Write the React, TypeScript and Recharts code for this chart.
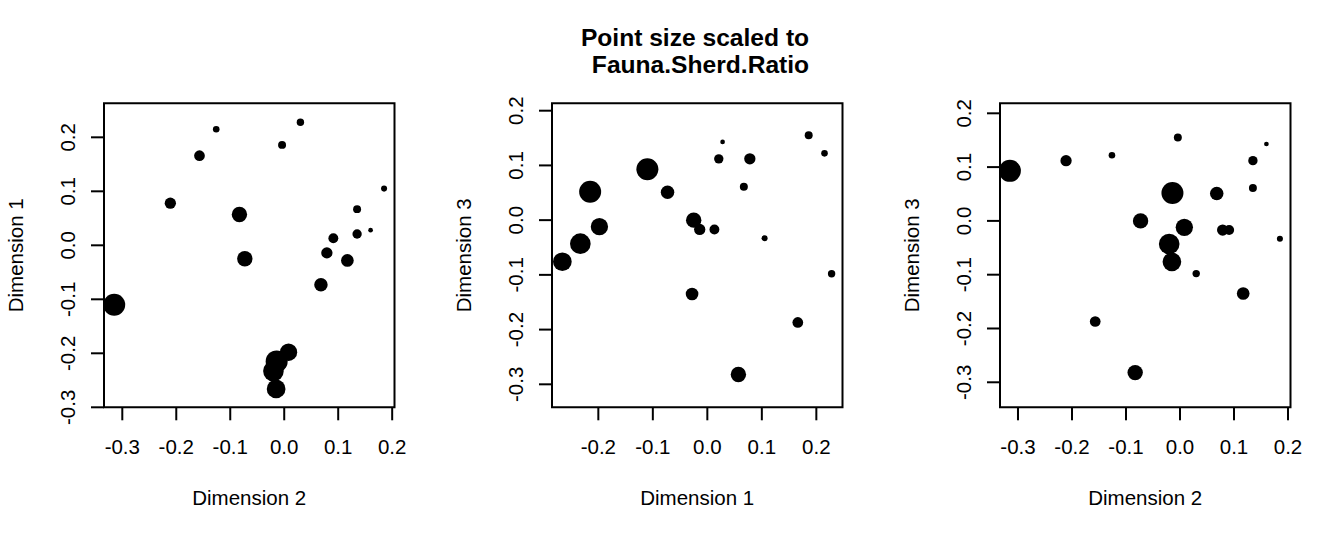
import React from "react";
import { ScatterChart, Scatter, XAxis, YAxis, ZAxis, ReferenceArea, Label } from "recharts";

// MDS coordinates of the 20 sites
const SITE_DIM1 = [-0.110, 0.078, 0.215, 0.186, 0.028, 0.021, 0.067, -0.215, -0.073, -0.025, -0.198, -0.014, 0.013, 0.105, -0.233, -0.266, 0.228, -0.028, 0.166, 0.057];
const SITE_DIM2 = [-0.315, -0.211, -0.126, -0.004, 0.160, 0.135, 0.135, -0.014, 0.068, -0.073, 0.008, 0.079, 0.091, 0.185, -0.020, -0.015, 0.030, 0.117, -0.157, -0.083];
const SITE_DIM3 = [0.093, 0.112, 0.122, 0.155, 0.143, 0.112, 0.061, 0.052, 0.051, 0.000, -0.012, -0.017, -0.017, -0.033, -0.043, -0.076, -0.098, -0.135, -0.187, -0.282];
const FAUNA_SHERD_RATIO = [4.0, 2.05, 1.2, 1.45, 0.85, 1.7, 1.45, 4.0, 2.45, 2.8, 3.15, 2.05, 1.8, 1.1, 3.75, 3.4, 1.35, 2.3, 1.95, 2.8];

const TICKS_DIM1 = [-0.2, -0.1, 0, 0.1, 0.2];
const TICKS_DIM1_Y = [-0.3, -0.2, -0.1, 0, 0.1, 0.2];
const TICKS_DIM2 = [-0.3, -0.2, -0.1, 0, 0.1, 0.2];
const TICKS_DIM3 = [-0.3, -0.2, -0.1, 0, 0.1, 0.2];

const POINTS = SITE_DIM1.map((d1, i) => ({
  d1,
  d2: SITE_DIM2[i],
  d3: SITE_DIM3[i],
  ratio: FAUNA_SHERD_RATIO[i],
}));

const FONT = "'Liberation Sans', Arial, Helvetica, sans-serif";
const FS = 20.5;

const PANELS = [
  { x: "d2", y: "d1", xLabel: "Dimension 2", yLabel: "Dimension 1", xTicks: TICKS_DIM2, yTicks: TICKS_DIM1_Y, xDomain: [-0.3339, 0.2043], yDomain: [-0.3, 0.263] },
  { x: "d1", y: "d3", xLabel: "Dimension 1", yLabel: "Dimension 3", xTicks: TICKS_DIM1, yTicks: TICKS_DIM3, xDomain: [-0.285, 0.248], yDomain: [-0.342, 0.2135] },
  { x: "d2", y: "d3", xLabel: "Dimension 2", yLabel: "Dimension 3", xTicks: TICKS_DIM2, yTicks: TICKS_DIM3, xDomain: [-0.3333, 0.2046], yDomain: [-0.3465, 0.2186] },
];

const fmt = (v: number) => v.toFixed(1);

const RotatedTick = (p: any) => (
  <text
    x={p.x}
    y={p.y}
    transform={`rotate(-90, ${p.x}, ${p.y})`}
    textAnchor="middle"
    fontSize={FS}
    fontFamily={FONT}
    fill="#000"
  >
    {fmt(p.payload.value)}
  </text>
);

const xTitle = (text: string) => (p: any) => {
  const vb = p.viewBox || { x: 0, y: 407.3, width: 394, height: 129.7 };
  return (
    <text x={vb.x + vb.width / 2} y={vb.y + 97.5} textAnchor="middle" fontSize={FS} fontFamily={FONT} fill="#000">
      {text}
    </text>
  );
};

const yTitle = (text: string) => (p: any) => {
  const vb = p.viewBox || { x: 0, y: 103.3, width: 104, height: 304 };
  const x = vb.x + vb.width - 80.5;
  const y = vb.y + vb.height / 2;
  return (
    <text x={x} y={y} transform={`rotate(-90, ${x}, ${y})`} textAnchor="middle" fontSize={FS} fontFamily={FONT} fill="#000">
      {text}
    </text>
  );
};

const Dot = (p: any) => {
  const r = typeof p.size === "number" ? p.size : Math.PI * (p.width / 2) ** 2;
  return <circle cx={p.cx} cy={p.cy} r={r} fill="#000" />;
};

const Panel = ({ cfg }: { cfg: any }) => (
  <ScatterChart width={448} height={537} margin={{ top: 103.3, right: 53.5, bottom: 0, left: 0 }}>
    <XAxis
      type="number"
      dataKey={cfg.x}
      domain={cfg.xDomain}
      allowDataOverflow
      ticks={cfg.xTicks}
      interval={0}
      tickFormatter={fmt}
      height={129.7}
      axisLine={false}
      tickLine={{ stroke: "#000", strokeWidth: 2 }}
      tickSize={13}
      tickMargin={19.4}
      tick={{ fill: "#000", fontSize: FS, fontFamily: FONT }}
    >
      <Label content={xTitle(cfg.xLabel)} />
    </XAxis>
    <YAxis
      type="number"
      dataKey={cfg.y}
      domain={cfg.yDomain}
      allowDataOverflow
      ticks={cfg.yTicks}
      interval={0}
      width={104}
      axisLine={false}
      tickLine={{ stroke: "#000", strokeWidth: 2 }}
      tickSize={13}
      tickMargin={15.5}
      tick={(p: any) => <RotatedTick {...p} />}
    >
      <Label content={yTitle(cfg.yLabel)} />
    </YAxis>
    <ZAxis type="number" dataKey="ratio" domain={[0, 4]} range={[0, 11]} />
    <Scatter data={POINTS} isAnimationActive={false} shape={Dot} />
    <ReferenceArea
      x1={cfg.xDomain[0]}
      x2={cfg.xDomain[1]}
      y1={cfg.yDomain[0]}
      y2={cfg.yDomain[1]}
      fill="none"
      stroke="#000"
      strokeWidth={2}
      ifOverflow="visible"
    />
  </ScatterChart>
);

export default function App() {
  return (
    <div style={{ position: "relative", width: 1344, height: 537, background: "#fff" }}>
      <style>{"body{margin:0}"}</style>
      {PANELS.map((cfg, i) => (
        <div key={i} style={{ position: "absolute", left: i * 448, top: 0 }}>
          <Panel cfg={cfg} />
        </div>
      ))}
      <svg width={1344} height={100} style={{ position: "absolute", left: 0, top: 0, pointerEvents: "none" }}>
        <text x={695} y={46} textAnchor="middle" fontSize={24.6} fontWeight="bold" fontFamily={FONT} fill="#000">
          Point size scaled to
        </text>
        <text x={700.5} y={73.3} textAnchor="middle" fontSize={24.6} fontWeight="bold" fontFamily={FONT} fill="#000">
          Fauna.Sherd.Ratio
        </text>
      </svg>
    </div>
  );
}
